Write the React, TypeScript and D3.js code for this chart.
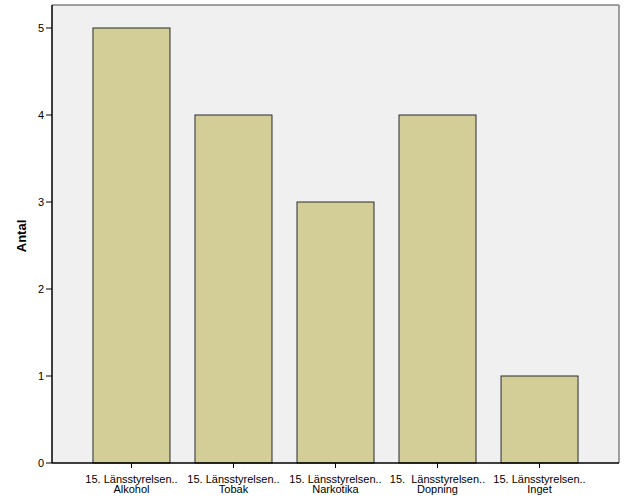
import React from "react";
import * as d3 from "d3";

const categories = ["Alkohol", "Tobak", "Narkotika", "Dopning", "Inget"];
const prefixes = ["15. Länsstyrelsen..", "15. Länsstyrelsen..", "15. Länsstyrelsen..", "15.  Länsstyrelsen..", "15. Länsstyrelsen.."];
const values = [5, 4, 3, 4, 1];
const yTicks = [0, 1, 2, 3, 4, 5];

export default function App() {
  const W = 626, H = 501;
  const left = 52, right = 619, top = 5, bottom = 463;
  const y = d3.scaleLinear().domain([0, 5]).range([bottom, 28]);
  const x = d3.scalePoint<string>().domain(categories).range([left, right]).padding(0.779);
  const bw = 77;
  const font = "Arial, 'Liberation Sans', sans-serif";
  return (
    <svg width={W} height={H} style={{ position: "absolute", left: 0, top: 0, background: "#fff" }}>
      <rect x={left} y={top} width={right - left} height={bottom - top} fill="#f0f0f0" />
      <line x1={left} y1={top} x2={right} y2={top} stroke="#808080" strokeWidth={1.5} />
      <line x1={right} y1={top} x2={right} y2={bottom} stroke="#808080" strokeWidth={1.5} />
      {values.map((v, i) => (
        <rect key={i} x={(x(categories[i]) as number) - bw / 2} y={y(v)} width={bw} height={bottom - y(v)}
          fill="#d3ce97" stroke="#2b2b2b" strokeWidth={1} />
      ))}
      <line x1={left} y1={top} x2={left} y2={bottom} stroke="#000" strokeWidth={1.5} />
      <line x1={left} y1={bottom} x2={right} y2={bottom} stroke="#000" strokeWidth={1.5} />
      {yTicks.map((t) => (
        <g key={t}>
          <line x1={left - 6} x2={left} y1={y(t)} y2={y(t)} stroke="#000" strokeWidth={1} />
          <text x={left - 8} y={y(t) + 4} textAnchor="end" fontSize={11} fontFamily={font} fill="#000">{t}</text>
        </g>
      ))}
      {categories.map((c, i) => {
        const cx = x(c) as number;
        return (
          <g key={c}>
            <line x1={cx} x2={cx} y1={bottom} y2={bottom + 5} stroke="#000" strokeWidth={1} />
            <text x={cx} y={482.5} textAnchor="middle" fontSize={11} fontFamily={font} fill="#000" style={{ whiteSpace: "pre" }}>{prefixes[i]}</text>
            <text x={cx} y={493} textAnchor="middle" fontSize={11} fontFamily={font} fill="#000">{c}</text>
          </g>
        );
      })}
      <text transform={`translate(26,236) rotate(-90)`} textAnchor="middle" fontSize={13}
        fontWeight="bold" fontFamily={font} fill="#000">Antal</text>
    </svg>
  );
}
